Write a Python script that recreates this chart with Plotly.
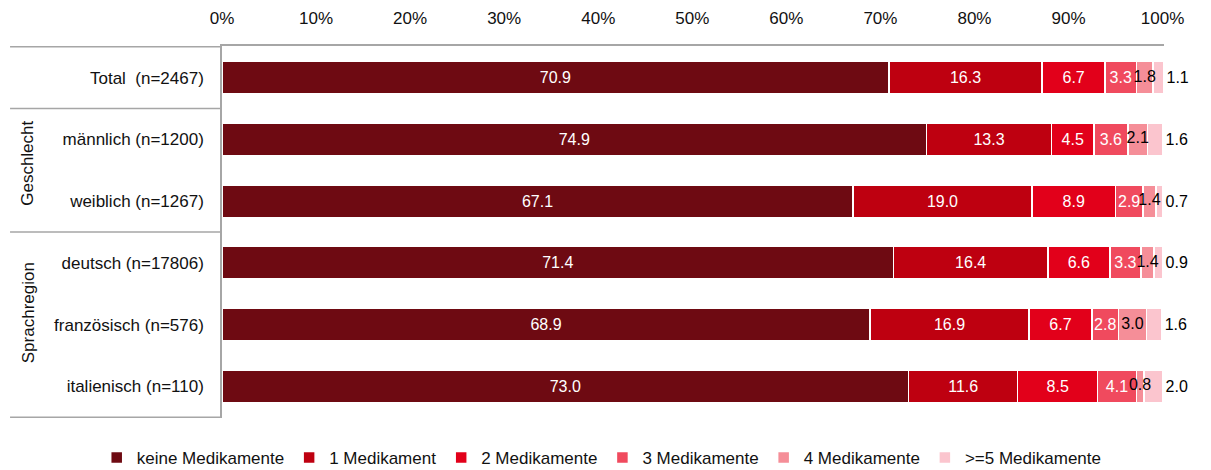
import plotly.graph_objects as go

categories = ["Total  (n=2467)", "männlich (n=1200)", "weiblich (n=1267)",
              "deutsch (n=17806)", "französisch (n=576)", "italienisch (n=110)"]
series_names = ["keine Medikamente", "1 Medikament", "2 Medikamente",
                "3 Medikamente", "4 Medikamente", ">=5 Medikamente"]
keine = [70.9, 74.9, 67.1, 71.4, 68.9, 73.0]
med1 = [16.3, 13.3, 19.0, 16.4, 16.9, 11.6]
med2 = [6.7, 4.5, 8.9, 6.6, 6.7, 8.5]
med3 = [3.3, 3.6, 2.9, 3.3, 2.8, 4.1]
med4 = [1.8, 2.1, 1.4, 1.4, 3.0, 0.8]
med5 = [1.1, 1.6, 0.7, 0.9, 1.6, 2.0]
x_ticks = [0, 10, 20, 30, 40, 50, 60, 70, 80, 90, 100]
group_labels = ["Geschlecht", "Sprachregion"]

colors = ["#6E0A12", "#BE0010", "#E2001A", "#F04A5E", "#F58E98", "#FBC5CE"]
FONT = "Liberation Sans, Arial, sans-serif"
GRID = "#a6a6a6"
FS = 17
BFS = 16

fig = go.Figure()
all_series = [keine, med1, med2, med3, med4, med5]
for i, (name, vals) in enumerate(zip(series_names, all_series)):
    if i < 4:
        text, pos, tcol = [f"{v:.1f}" for v in vals], "inside", "white"
    elif i == 5:
        text, pos, tcol = [f"{v:.1f}" for v in vals], "outside", "black"
    else:
        text, pos, tcol = None, "none", "black"
    fig.add_trace(go.Bar(
        y=categories, x=vals, name=name, orientation="h",
        marker=dict(color=colors[i], line=dict(color="white", width=1.5)),
        text=text, textposition=pos,
        insidetextanchor="middle",
        textangle=0,
        constraintext="none",
        textfont=dict(color=tcol, size=BFS, family=FONT),
        cliponaxis=False,
        width=0.53,
        hoverinfo="x+name",
    ))

# labels of the "4 Medikamente" segments, drawn on top of the bars
cum4 = [a + b + c + d for a, b, c, d in zip(keine, med1, med2, med3)]
mid4 = [c + v / 2 for c, v in zip(cum4, med4)]
fig.add_trace(go.Scatter(
    x=mid4, y=categories, mode="text", text=[f"{v:.1f}" for v in med4],
    textposition="middle center", textfont=dict(color="black", size=BFS, family=FONT),
    showlegend=False, hoverinfo="skip", cliponaxis=False,
))

fig.update_layout(
    barmode="stack",
    width=1211, height=470,
    margin=dict(l=214, r=55, t=38, b=60, autoexpand=False),
    plot_bgcolor="white", paper_bgcolor="white",
    font=dict(family=FONT, size=FS, color="#111111"),
    xaxis=dict(side="top", range=[0, 100.15], tickvals=x_ticks,
               ticktext=[f"{t}%" for t in x_ticks],
               showgrid=False, zeroline=False, showline=True,
               linecolor=GRID, linewidth=1.5, ticks="", automargin=False,
               ticklabelstandoff=13, tickfont=dict(size=FS)),
    yaxis=dict(autorange="reversed", showgrid=False, zeroline=False,
               showline=True, linecolor=GRID, linewidth=1.5, ticks="",
               automargin=False, ticklabelstandoff=13, tickfont=dict(size=FS)),
    legend=dict(orientation="h", x=-0.133, xanchor="left",
                y=-0.1075, yanchor="middle",
                font=dict(size=FS), traceorder="normal", itemwidth=30),
    showlegend=True,
)

# separator lines on the left label area
for yv in [-0.5, 0.5, 2.5, 5.5]:
    fig.add_shape(type="line", xref="paper", yref="y", x0=-0.225, x1=0,
                  y0=yv, y1=yv, line=dict(color=GRID, width=1.5))

fig.add_annotation(text=group_labels[0], xref="paper", yref="y", x=-0.206, y=1.38,
                   xanchor="center", yanchor="middle",
                   textangle=-90, showarrow=False, font=dict(size=FS))
fig.add_annotation(text=group_labels[1], xref="paper", yref="y", x=-0.206, y=3.8,
                   xanchor="center", yanchor="middle",
                   textangle=-90, showarrow=False, font=dict(size=FS))

fig.write_html("out.html")
